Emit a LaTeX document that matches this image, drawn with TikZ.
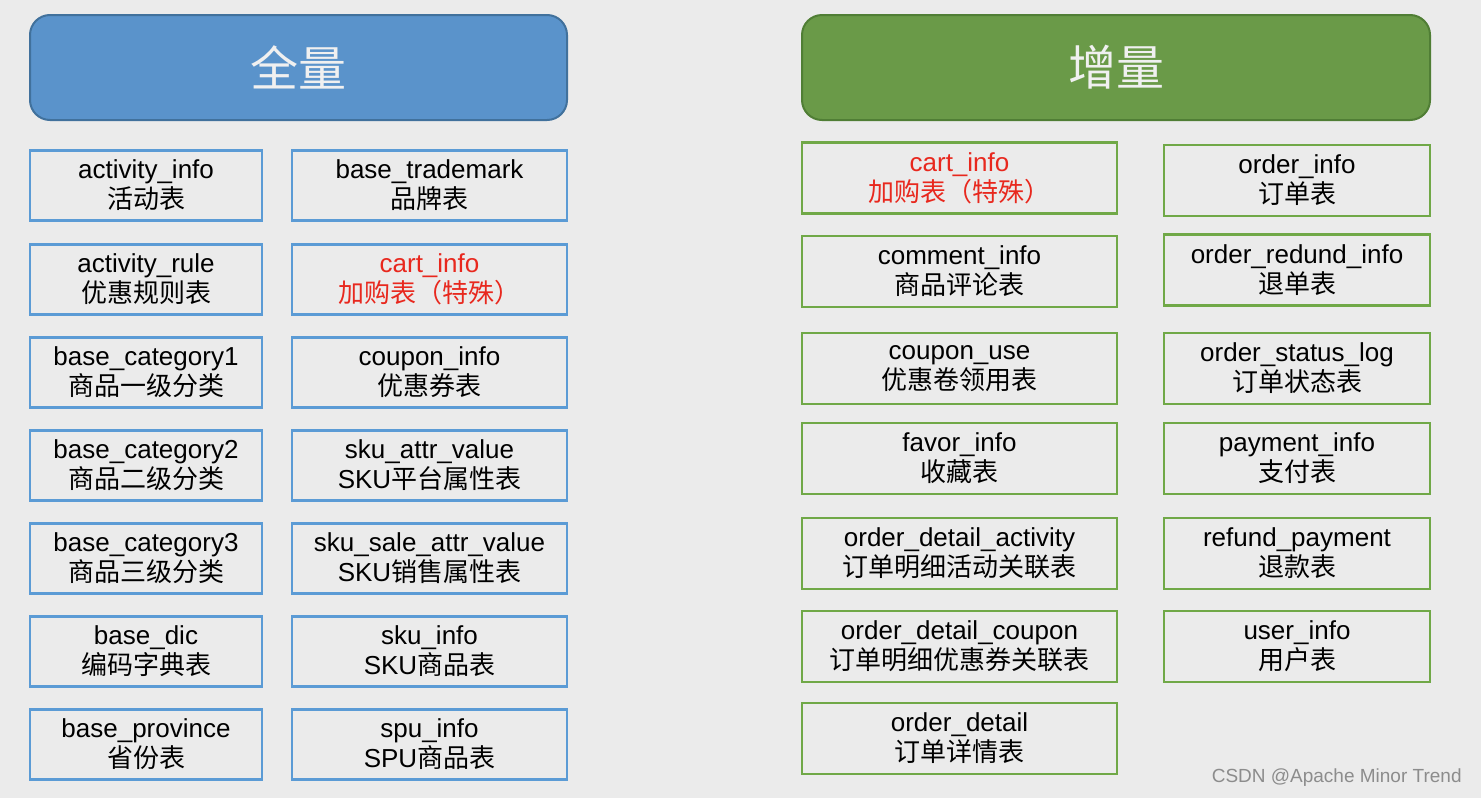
\documentclass[tikz,border=0pt]{standalone}
\usepackage{fontspec}
\setmainfont{Liberation Sans}
\newfontfamily\cjk{Noto Sans CJK SC}
\usepackage{tikz}
\usetikzlibrary{positioning}
\definecolor{bg_gray}{RGB}{235, 235, 235}
\definecolor{head_blue}{RGB}{90, 147, 203}
\definecolor{head_blue_line}{RGB}{65, 113, 156}
\definecolor{head_green}{RGB}{106, 154, 72}
\definecolor{head_green_line}{RGB}{80, 126, 53}
\definecolor{box_blue}{RGB}{91, 155, 213}
\definecolor{box_green}{RGB}{112, 168, 71}
\definecolor{mark_red}{RGB}{232, 40, 30}

\begin{document}
\begin{tikzpicture}[
        x=0.5pt, y=-0.5pt,
        every node/.style={inner sep=2pt},
        head/.style={rounded corners=10pt, line width=1pt, minimum height=52.5pt,
            text=white!94!black, font=\cjk\fontsize{24pt}{26pt}\selectfont},
        tbl/.style={fill=bg_gray, line width=1.3pt, align=center,
            font=\fontsize{13pt}{15pt}\selectfont},
        fullbox/.style={tbl, draw=box_blue, minimum height=35pt},
        incbox/.style={tbl, draw=box_green, minimum height=35.5pt}
    ]
        % -------- Sfondo --------
        \fill[bg_gray] (0, 0) rectangle (1481, 798);
        \useasboundingbox (0, 0) rectangle (1481, 798);

        % -------- Intestazioni --------
        \node[head, fill=head_blue, draw=head_blue_line, minimum width=268.5pt] (full) at (298.5, 67.5) {全量};
        \node[head, fill=head_green, draw=head_green_line, minimum width=314pt] (inc) at (1116, 67.5) {增量};

        % -------- Tabelle full, colonna 1 --------
        \foreach \nm/\a/\b/\y in {
            actinfo/activity\_info/{\cjk 活动表}/185.5,
            actrule/activity\_rule/{\cjk 优惠规则表}/279.5,
            cat1/base\_category1/{\cjk 商品一级分类}/372.5,
            cat2/base\_category2/{\cjk 商品二级分类}/465.5,
            cat3/base\_category3/{\cjk 商品三级分类}/558.5,
            dic/base\_dic/{\cjk 编码字典表}/651.5,
            prov/base\_province/{\cjk 省份表}/744.5}{
            \node[fullbox, minimum width=116pt] (\nm) at (146, \y) {\a\\\b};
        }

        % -------- Tabelle full, colonna 2 --------
        \foreach \nm/\a/\b/\y in {
            trademark/base\_trademark/{\cjk 品牌表}/185.5,
            coupon/coupon\_info/{\cjk 优惠券表}/372.5,
            skuattr/sku\_attr\_value/SKU{\cjk 平台属性表}/465.5,
            skusale/sku\_sale\_attr\_value/SKU{\cjk 销售属性表}/558.5,
            sku/sku\_info/SKU{\cjk 商品表}/651.5,
            spu/spu\_info/SPU{\cjk 商品表}/744.5}{
            \node[fullbox, minimum width=137.5pt] (\nm) at (429.5, \y) {\a\\\b};
        }

        % cart_info (caso speciale)
        \node[fullbox, minimum width=137.5pt, text=mark_red] (cartfull) at (429.5, 279.5) {cart\_info\\{\cjk 加购表（特殊）}};

        % -------- Tabelle incrementali, colonna 1 --------
        \node[incbox, minimum width=157.5pt, text=mark_red] (cartinc) at (959.5, 178) {cart\_info\\{\cjk 加购表（特殊）}};
        \foreach \nm/\a/\b/\y in {
            comment/comment\_info/{\cjk 商品评论表}/271.5,
            couponuse/coupon\_use/{\cjk 优惠卷领用表}/368.5,
            favor/favor\_info/{\cjk 收藏表}/458.5,
            odact/order\_detail\_activity/{\cjk 订单明细活动关联表}/553.5,
            odcoupon/order\_detail\_coupon/{\cjk 订单明细优惠券关联表}/646.5,
            odetail/order\_detail/{\cjk 订单详情表}/738.5}{
            \node[incbox, minimum width=157.5pt] (\nm) at (959.5, \y) {\a\\\b};
        }

        % -------- Tabelle incrementali, colonna 2 --------
        \foreach \nm/\a/\b/\y in {
            order/order\_info/{\cjk 订单表}/180.5,
            redund/order\_redund\_info/{\cjk 退单表}/270,
            status/order\_status\_log/{\cjk 订单状态表}/368.5,
            payment/payment\_info/{\cjk 支付表}/458.5,
            refund/refund\_payment/{\cjk 退款表}/553.5,
            user/user\_info/{\cjk 用户表}/646.5}{
            \node[incbox, minimum width=133pt] (\nm) at (1297, \y) {\a\\\b};
        }

        % filigrana
        \node[text=black!45, font=\fontsize{9.5pt}{11pt}\selectfont, anchor=east] (wm) at (1466, 778) {CSDN @Apache Minor Trend};
    \end{tikzpicture}
\end{document}
